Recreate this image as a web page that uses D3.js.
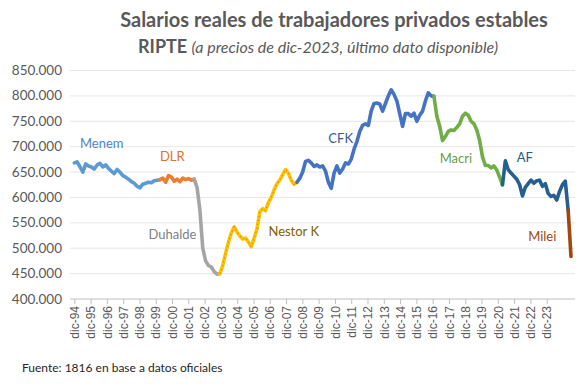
<!DOCTYPE html>
<html>
<head>
<meta charset="utf-8">
<script src="https://cdn.jsdelivr.net/npm/d3@7"></script>
<style>
  body { margin: 0; background: #fff; }
  svg { display: block; font-family: Lato, "Open Sans", sans-serif; }
</style>
</head>
<body>
<script>
// etiquetas del eje x (una por año)
const tickLabels = ['dic-94','dic-95','dic-96','dic-97','dic-98','dic-99','dic-00','dic-01','dic-02','dic-03',
  'dic-04','dic-05','dic-06','dic-07','dic-08','dic-09','dic-10','dic-11','dic-12','dic-13',
  'dic-14','dic-15','dic-16','dic-17','dic-18','dic-19','dic-20','dic-21','dic-22','dic-23'];
const yTicks = [400000, 450000, 500000, 550000, 600000, 650000, 700000, 750000, 800000, 850000];

// gobiernos: mes de inicio (meses desde dic-94), un dato cada 2 meses
const gobiernos = ['Menem', 'DLR', 'Duhalde', 'Nestor K', 'CFK', 'Macri', 'AF', 'Milei'];
const inicioMes = [0, 60, 84, 102, 156, 252, 300, 346];
const paso = 2;

// salario real (miles de $ de dic-2023)
const menem = [668, 670, 660, 650, 666, 662, 660, 656, 664, 667, 660, 664, 657, 652, 647, 655,
  650, 643, 640, 636, 631, 628, 622, 619, 626, 628, 630, 629, 633, 634, 635];
const dlr = [635, 638, 630, 643, 640, 632, 636, 631, 638, 635, 637, 634, 636];
const duhalde = [636, 620, 575, 500, 475, 466, 463, 454, 449, 450];
const nestor = [450, 466, 490, 512, 530, 542, 532, 524, 518, 520, 512, 503, 520, 538, 572, 578,
  574, 590, 600, 615, 627, 634, 645, 655, 648, 634, 626, 630];
const cfk = [630, 638, 650, 671, 673, 668, 661, 664, 660, 662, 652, 630, 618, 648, 662, 648,
  656, 668, 666, 675, 695, 710, 730, 742, 745, 742, 770, 785, 786, 784, 770, 785,
  800, 812, 803, 790, 765, 740, 765, 765, 760, 766, 750, 762, 770, 790, 806, 800, 799];
const macri = [799, 760, 740, 712, 720, 730, 733, 732, 738, 745, 760, 766, 762, 750, 745, 733,
  712, 680, 663, 663, 658, 662, 654, 640, 625];
const af = [625, 672, 655, 648, 642, 636, 625, 603, 620, 627, 634, 628, 633, 634, 622, 627,
  608, 602, 604, 595, 612, 625, 632, 575];
const milei = [575, 484];

const valores = [menem, dlr, duhalde, nestor, cfk, macri, af, milei];
const colorLinea = ['#5b9bd5', '#ed7d31', '#a5a5a5', '#ffc000', '#4472c4', '#70ad47', '#255e91', '#9e480e'];
const colorTexto = ['#4f86c0', '#e0702a', '#7f7f7f', '#7f6000', '#3a5a97', '#6a9a4a', '#255e91', '#9e480e'];
// posición de cada etiqueta [mes, valor]
const etiquetaPos = [[4, 697000], [60, 672000], [52, 518000], [136, 525000], [178, 707000],
  [256, 667000], [310, 669000], [318, 515000]];

const width = 588, height = 390;
const svg = d3.select('body').append('svg')
  .attr('width', width)
  .attr('height', height);

const x = d3.scaleLinear().domain([0, 348]).range([74.3, 571]);
const xLab = d3.scalePoint().domain(tickLabels).range([74.3, 546.7]);
const y = d3.scaleLinear().domain([400000, 850000]).range([299, 70.5]);

const fmt = d3.formatLocale({ decimal: ',', thousands: '.', grouping: [3], currency: ['$', ''] }).format(',');

// títulos
svg.append('text')
  .attr('x', 334).attr('y', 27)
  .attr('text-anchor', 'middle')
  .style('font-size', '20px').style('font-weight', 'bold').style('fill', '#595959')
  .text('Salarios reales de trabajadores privados estables');

const sub = svg.append('text')
  .attr('x', 318).attr('y', 53)
  .attr('text-anchor', 'middle')
  .style('fill', '#595959');
sub.append('tspan').style('font-size', '18px').style('font-weight', 'bold').text('RIPTE ');
sub.append('tspan').style('font-size', '16px').style('font-style', 'italic').text('(a precios de dic-2023, último dato disponible)');

// grilla
svg.append('g')
  .selectAll('line')
  .data(yTicks)
  .enter()
  .append('line')
  .attr('x1', 70).attr('x2', 575)
  .attr('y1', d => y(d)).attr('y2', d => y(d))
  .style('stroke', d => d === 400000 ? '#bfbfbf' : '#e6e6e6')
  .style('stroke-width', 1);

// eje y
svg.append('g')
  .selectAll('text')
  .data(yTicks)
  .enter()
  .append('text')
  .attr('x', 62)
  .attr('y', d => y(d) + 4.5)
  .attr('text-anchor', 'end')
  .style('font-size', '13.5px').style('fill', '#595959')
  .text(d => fmt(d));

// eje x
const gx = svg.append('g')
  .attr('transform', 'translate(0,299)')
  .call(d3.axisBottom(xLab).tickSize(5).tickSizeOuter(0));
gx.select('.domain').remove();
gx.selectAll('.tick line').style('stroke', '#bfbfbf');
gx.selectAll('.tick text')
  .attr('transform', 'rotate(-90)')
  .attr('x', -7).attr('y', 0).attr('dy', '0.35em')
  .attr('text-anchor', 'end')
  .style('font-family', '"Liberation Sans", Arial, sans-serif')
  .style('font-size', '12px').style('fill', '#595959');

// líneas por gobierno
const line = d3.line()
  .x(d => x(d.mes))
  .y(d => y(d.valor * 1000));

const tramos = gobiernos.map((g, i) => ({
  nombre: g,
  puntos: valores[i].map((v, j) => ({ mes: inicioMes[i] + j * paso, valor: v }))
}));

svg.append('g')
  .selectAll('path')
  .data(tramos)
  .enter()
  .append('path')
  .attr('d', d => line(d.puntos))
  .style('fill', 'none')
  .style('stroke', (d, i) => colorLinea[i])
  .style('stroke-width', 3.6)
  .style('stroke-linejoin', 'round')
  .style('stroke-linecap', 'round');

// punteado sobre Nestor K
svg.append('path')
  .attr('d', line(tramos[3].puntos))
  .style('fill', 'none')
  .style('stroke', '#bf8f00')
  .style('stroke-width', 1.2)
  .style('stroke-dasharray', '1,3');

// nombres
svg.append('g')
  .selectAll('text')
  .data(gobiernos)
  .enter()
  .append('text')
  .attr('x', (d, i) => x(etiquetaPos[i][0]))
  .attr('y', (d, i) => y(etiquetaPos[i][1]))
  .style('font-size', '13px')
  .style('fill', (d, i) => colorTexto[i])
  .text(d => d);

// fuente
svg.append('text')
  .attr('x', 22).attr('y', 372)
  .style('font-size', '12px').style('fill', '#262626')
  .text('Fuente: 1816 en base a datos oficiales');
</script>
</body>
</html>
